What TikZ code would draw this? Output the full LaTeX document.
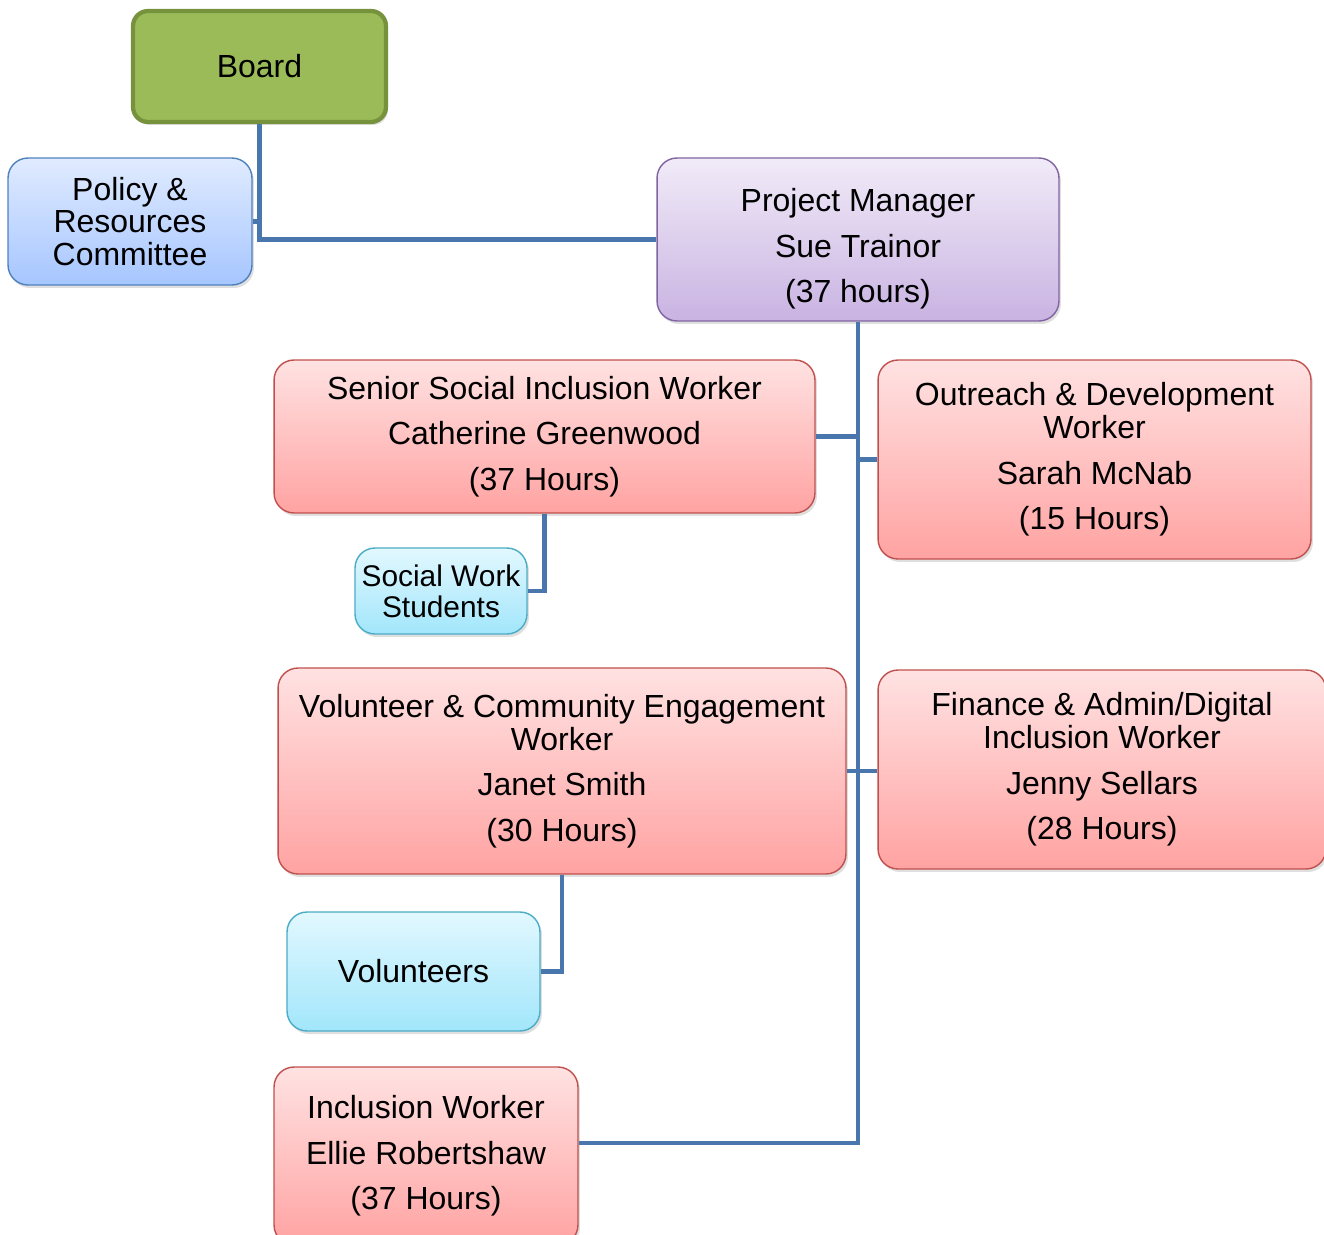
\documentclass[tikz,border=0pt]{standalone}
\usepackage{fontspec}
\setmainfont{Liberation Sans}
\usetikzlibrary{shadows}

\definecolor{linkblue}{HTML}{4A76AE}
\definecolor{boardfill}{HTML}{9BBB59}
\definecolor{boardline}{HTML}{76923C}
\definecolor{redline}{HTML}{C0504D}
\definecolor{redtop}{HTML}{FFE2E2}
\definecolor{redbot}{HTML}{FFA3A2}
\definecolor{purpline}{HTML}{8064A2}
\definecolor{purptop}{HTML}{F1EBF8}
\definecolor{purpbot}{HTML}{C9B3E2}
\definecolor{blueline}{HTML}{4F81BD}
\definecolor{bluetop}{HTML}{E0EBFF}
\definecolor{bluebot}{HTML}{A6C6FF}
\definecolor{cyanline}{HTML}{4BACC6}
\definecolor{cyantop}{HTML}{E2F8FF}
\definecolor{cyanbot}{HTML}{A2E6FB}

\begin{document}
\begin{tikzpicture}[x=0.02cm,y=-0.02cm,
    every node/.style={font=\fontsize{18.2}{18.7}\selectfont,align=center,inner sep=0pt},
    box/.style={rounded corners=0.4cm,line width=0.8pt,
        drop shadow={opacity=0.25,shadow xshift=0.04cm,shadow yshift=-0.06cm}},
    redbox/.style={box,draw=redline,top color=redtop,bottom color=redbot},
    cyanbox/.style={box,draw=cyanline,top color=cyantop,bottom color=cyanbot},
    link/.style={draw=linkblue,line width=2.8pt}]
    \useasboundingbox (0,0) rectangle (1324,1234);
    % boxes
    \node[box,draw=boardline,fill=boardfill,line width=2.4pt,rounded corners=0.3cm,
        minimum width=5.06cm,minimum height=2.22cm] (board) at (259.5,66.5) {Board};
    \node[box,draw=blueline,top color=bluetop,bottom color=bluebot,
        minimum width=4.88cm,minimum height=2.54cm] (policy) at (130,221.5)
        {Policy \&\\Resources\\Committee};
    \node[box,draw=purpline,top color=purptop,bottom color=purpbot,
        minimum width=8.04cm,minimum height=3.26cm] (pm) at (858,239.5)
        {\rule{0pt}{24pt}Project Manager\\[7.3pt]Sue Trainor\\[7.3pt](37 hours)};
    \node[redbox,minimum width=10.82cm,minimum height=3.06cm] (senior) at (544.5,436.5)
        {Senior Social Inclusion Worker\\[7.3pt]Catherine Greenwood\\[7.3pt](37 Hours)};
    \node[redbox,minimum width=8.66cm,minimum height=3.98cm] (outreach) at (1094.5,459.5)
        {Outreach \& Development\\Worker\\[7.3pt]Sarah McNab\\[7.3pt](15 Hours)};
    \node[cyanbox,font=\fontsize{17}{17.6}\selectfont,
        minimum width=3.44cm,minimum height=1.72cm] (students) at (441,591)
        {Social Work\\Students};
    \node[redbox,minimum width=11.36cm,minimum height=4.12cm] (volunteer) at (562,771)
        {Volunteer \& Community Engagement\\Worker\\[7.3pt]Janet Smith\\[7.3pt](30 Hours)};
    \node[redbox,minimum width=8.96cm,minimum height=3.98cm] (finance) at (1102,769.5)
        {Finance \& Admin/Digital\\Inclusion Worker\\[7.3pt]Jenny Sellars\\[7.3pt](28 Hours)};
    \node[cyanbox,minimum width=5.06cm,minimum height=2.38cm] (volunteers) at (413.5,971.5)
        {Volunteers};
    \node[redbox,minimum width=6.08cm,minimum height=3.56cm] (inclusion) at (426,1156)
        {Inclusion Worker\\[7.3pt]Ellie Robertshaw\\[7.3pt](37 Hours)};
    % connectors
    \coordinate (trunk) at (858,1143);
    \draw[link] (board.south) |- (pm.west);
    \draw[link] (policy.east) -- (board.south |- policy.east);
    \draw[link] (pm.south) -- (trunk) -- (inclusion.east |- trunk);
    \draw[link] (senior.east) -- (senior.east -| trunk);
    \draw[link] (outreach.west) -- (outreach.west -| trunk);
    \draw[link] (volunteer.east) -- (finance.west |- volunteer.east);
    \draw[link] (senior.south) |- (students.east);
    \draw[link] (volunteer.south) |- (volunteers.east);
\end{tikzpicture}
\end{document}
